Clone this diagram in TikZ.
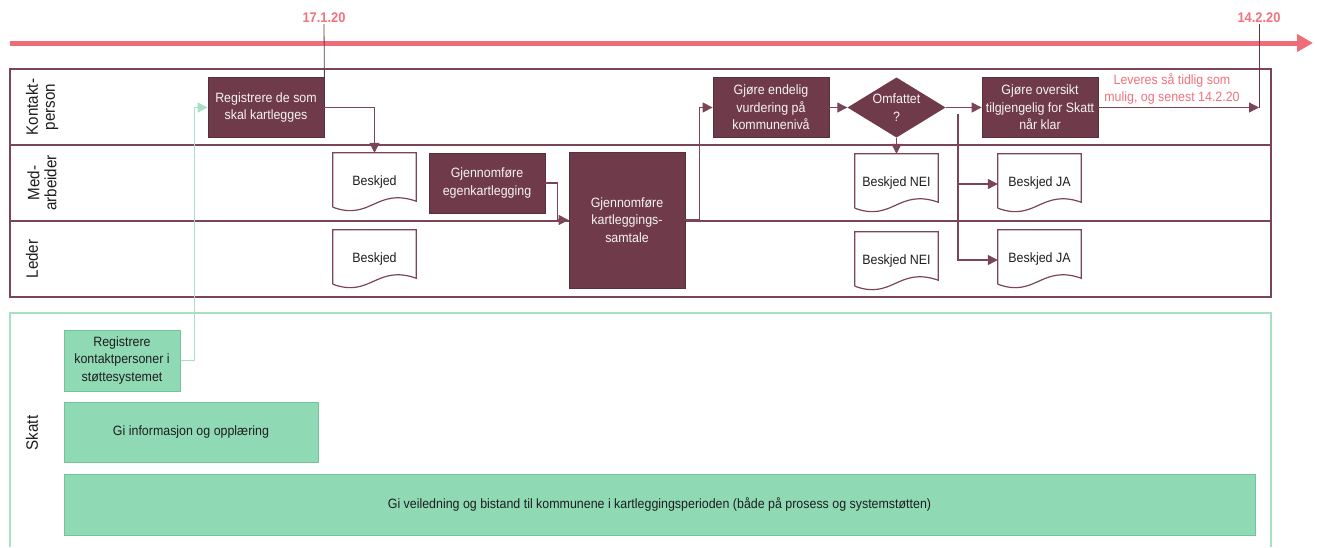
\documentclass[tikz,border=0pt]{standalone}
\usepackage{fontspec}
\setmainfont{Liberation Sans}[FakeStretch=0.92]
\usetikzlibrary{arrows.meta,calc}
\definecolor{maroon}{HTML}{6F3B4A}
\definecolor{mline}{HTML}{7A4656}
\definecolor{pinkline}{HTML}{F06C78}
\definecolor{pinktxt}{HTML}{F2727E}
\definecolor{gfill}{HTML}{8FD9B4}
\definecolor{gdraw}{HTML}{72C49A}
\definecolor{gline}{HTML}{A6E1C4}
\definecolor{txt}{HTML}{1E1E1E}
\newcommand\bodyfont{\fontsize{13.5}{17.5}\selectfont}
\newcommand\up[1]{\raisebox{4pt}{#1}}
\newcommand\docbox[1]{%
  \draw[mline,line width=1.2pt]
    ([yshift=6pt]#1.south west) -- (#1.north west) -- (#1.north east) -- ([yshift=12pt]#1.south east)
    .. controls ([xshift=-40pt,yshift=26pt]#1.south east) and ([xshift=38pt,yshift=-8pt]#1.south west) ..
    ([yshift=6pt]#1.south west);}
\tikzset{
  proc/.style={fill=maroon, draw=maroon!80!black, line width=0.8pt, text=white!94!maroon,
    align=center, inner sep=2pt, minimum width=116pt, minimum height=60pt, font=\bodyfont},
  docnode/.style={draw=none, text=txt, minimum width=83pt, minimum height=60pt,
    inner sep=0pt, font=\bodyfont},
  gbox/.style={fill=gfill, draw=gdraw, line width=1pt, text=txt, align=center,
    inner sep=2pt, font=\bodyfont},
  omfshape/.style={minimum width=98pt, minimum height=60pt, inner sep=0pt, align=center,
    text=white!94!maroon, font=\bodyfont,
    path picture={\fill[maroon] (path picture bounding box.north) -- (path picture bounding box.east)
      -- (path picture bounding box.south) -- (path picture bounding box.west) -- cycle;}},
  flow/.style={draw=mline, line width=1.2pt, -{Triangle[length=10pt,width=10pt]}},
  gflow/.style={draw=gline, line width=1.2pt, -{Triangle[length=10pt,width=10pt]}},
  dateline/.style={draw=mline!80!black, line width=0.8pt},
  datelbl/.style={text=pinktxt, font=\fontsize{14}{16}\bfseries\selectfont, inner sep=1pt},
  lanelbl/.style={rotate=90, align=center, text=txt, font=\fontsize{16.5}{17}\selectfont},
  poolline/.style={draw=mline, line width=1.4pt},
}
\begin{document}
\begin{tikzpicture}[x=1pt,y=-1pt]
\useasboundingbox (0,0) rectangle (1317,547);
\fill[white] (0,0) rectangle (1317,547);

% timeline
\coordinate (tl0) at (10,43);
\coordinate (tl1) at (1313,43);
\draw[pinkline, line width=5pt, -{Triangle[length=16pt,width=17pt]}] (tl0) -- (tl1);

% pools
\draw[poolline] (10,69) rectangle (1271,297);
\draw[poolline] (10,145) -- (1271,145);
\draw[poolline] (10,221) -- (1271,221);
\draw[draw=gline, line width=1.4pt] (10,547) -- (10,313) -- (1271,313) -- (1271,547);

% lane labels
\node[lanelbl] (l1) at (42,107) {Kontakt-\\person};
\node[lanelbl] (l2) at (42,183) {Med-\\arbeider};
\node[lanelbl] (l3) at (32,259) {Leder};
\node[lanelbl] (l4) at (32,433) {Skatt};

% dates
\node[datelbl] (d1) at (324,18) {17.1.20};
\node[datelbl] (d2) at (1259,18) {14.2.20};

% process nodes
\node[proc] (reg) at (266,107.5) {Registrere de som\\skal kartlegges};
\node[docnode] (b1) at (374.5,183) {\up{Beskjed}};
\node[proc] (egen) at (487,183) {Gjennomføre\\egenkartlegging};
\node[proc, minimum height=136pt] (samt) at (627,220) {Gjennomføre\\kartleggings-\\samtale};
\node[docnode] (b2) at (374.5,260) {\up{Beskjed}};
\node[proc] (vurd) at (771,107.5) {Gjøre endelig\\vurdering på\\kommunenivå};
\node[omfshape] (omf) at (896.5,107.5) {Omfattet\\?};
\node[proc] (ovs) at (1040,107.5) {Gjøre oversikt\\tilgjengelig for Skatt\\når klar};
\node[docnode] (nei1) at (896.5,184) {\up{Beskjed NEI}};
\node[docnode] (ja1) at (1039.5,184) {\up{Beskjed JA}};
\node[docnode] (nei2) at (896.5,262) {\up{Beskjed NEI}};
\node[docnode] (ja2) at (1039.5,260) {\up{Beskjed JA}};
\node[text=pinktxt, align=center, font=\bodyfont, inner sep=0pt] (lev) at (1172,89) {Leveres så tidlig som\\mulig, og senest 14.2.20};

\docbox{b1}\docbox{b2}\docbox{nei1}\docbox{ja1}\docbox{nei2}\docbox{ja2}

% Skatt nodes
\node[gbox, minimum width=116pt, minimum height=61pt] (rk) at (122,360.5) {Registrere\\kontaktpersoner i\\støttesystemet};
\node[gbox, minimum width=254pt, minimum height=60pt] (gi1) at (191,432) {Gi informasjon og opplæring};
\node[gbox, minimum width=1191pt, minimum height=61pt] (gi2) at (659.5,504.5) {Gi veiledning og bistand til kommunene i kartleggingsperioden (både på prosess og systemstøtten)};

% connectors
\coordinate (levend) at (1259,107.5);
\coordinate (br) at (958,114);
\draw[dateline] (d1.south) -- (reg.north east);
\draw[dateline] (d2.south) -- (levend);
\draw[flow] (reg.east) -| (b1.north);
\draw[flow] (egen.east) -- ($(egen.east)+(12,0)$) |- (samt.west);
\draw[flow] (samt.east) -- ($(samt.east)+(14,0)$) |- (vurd.west);
\draw[flow] (vurd.east) -- (omf.west);
\draw[flow] (omf.south) -- (nei1.north);
\draw[flow] (omf.east) -- (ovs.west);
\draw[flow] (br) |- (ja2.west);
\draw[flow] (br |- ja1.west) -- (ja1.west);
\draw[flow] (ovs.east) -- (levend);
\draw[gflow] (rk.east) -- ($(rk.east)+(14,0)$) |- (reg.west);
\end{tikzpicture}
\end{document}
